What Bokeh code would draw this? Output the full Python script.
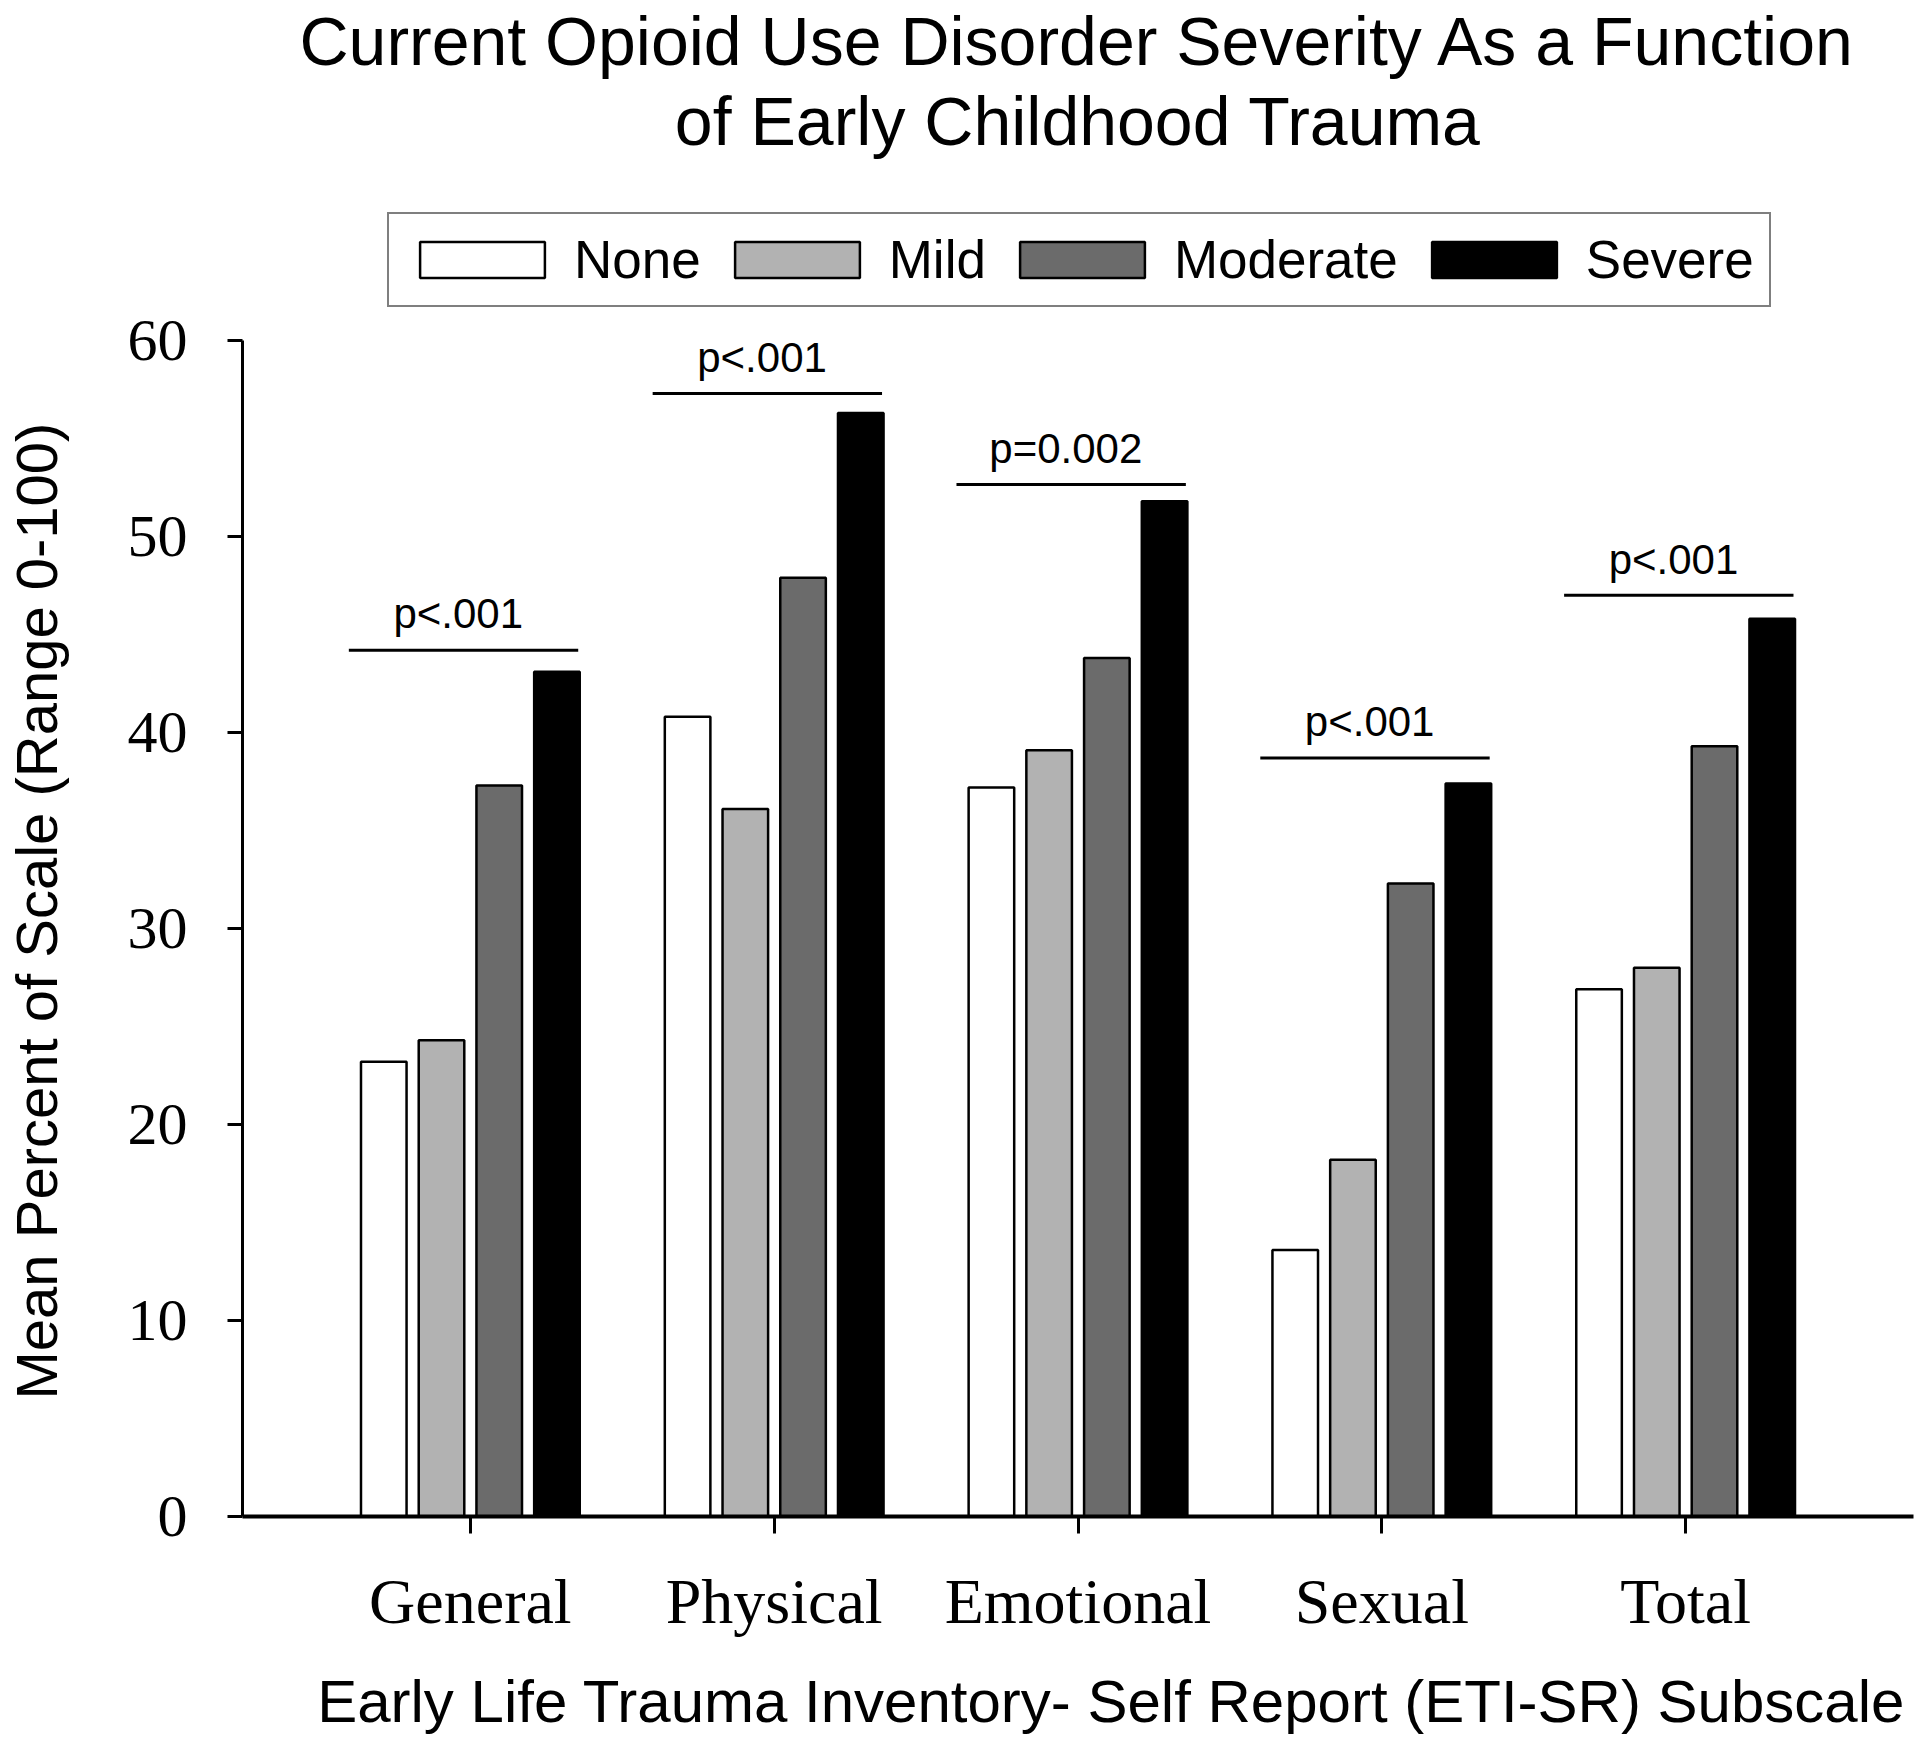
from bokeh.plotting import figure
from bokeh.models import ColumnDataSource, FixedTicker, Legend, LegendItem, Title, Range1d
from bokeh.transform import dodge
from bokeh.core.properties import value
from bokeh.embed import file_html
from bokeh.resources import INLINE

# ---------------- data ----------------
subscales = ["General", "Physical", "Emotional", "Sexual", "Total"]
severity_levels = ["None", "Mild", "Moderate", "Severe"]
none_vals = [23.2, 40.8, 37.2, 13.6, 26.9]
mild_vals = [24.3, 36.1, 39.1, 18.2, 28.0]
moderate_vals = [37.3, 47.9, 43.8, 32.3, 39.3]
severe_vals = [43.1, 56.3, 51.8, 37.4, 45.8]
p_labels = ["p<.001", "p<.001", "p=0.002", "p<.001", "p<.001"]
p_levels = [44.2, 57.3, 52.65, 38.7, 47.0]
y_ticks = [0, 10, 20, 30, 40, 50, 60]

title_line1 = "Current Opioid Use Disorder Severity As a Function"
title_line2 = "of Early Childhood Trauma"
x_title = "Early Life Trauma Inventory- Self Report (ETI-SR) Subscale"
y_title = "Mean Percent of Scale (Range 0-100)"

# ---------------- styles / layout ----------------
fills = ["#ffffff", "#b2b2b2", "#6b6b6b", "#000000"]
offsets = [-0.285, -0.095, 0.095, 0.285]
bar_width = 0.15
SANS = "Liberation Sans"
SERIF = "Liberation Serif"
NBSP = "\u00a0"

FRAME_TOP, AXIS_TOP, FRAME_BOTTOM = 160, 340, 1516   # screen px
y_max = 60 * (FRAME_BOTTOM - FRAME_TOP) / (FRAME_BOTTOM - AXIS_TOP)

idx = list(range(len(subscales)))
src = ColumnDataSource(dict(
    x=idx, none=none_vals, mild=mild_vals, moderate=moderate_vals, severe=severe_vals,
))
cols = ["none", "mild", "moderate", "severe"]

p = figure(
    width=1920, height=1743,
    x_range=Range1d(-0.75, 4.75), y_range=Range1d(0, y_max),
    output_backend="svg", toolbar_location=None, title=None,
    min_border_left=237, min_border_right=7, min_border_top=FRAME_TOP,
    min_border_bottom=1743 - FRAME_BOTTOM,
)
p.outline_line_color = None
p.xgrid.visible = False
p.ygrid.visible = False
p.background_fill_color = "white"
p.border_fill_color = "white"

renderers = []
for col, off, fc in zip(cols, offsets, fills):
    r = p.vbar(x=dodge("x", off), top=col, width=bar_width, bottom=0, source=src,
               fill_color=fc, line_color="black", line_width=2.5)
    renderers.append(r)

# significance bars and labels
p.segment(x0=[i - 0.40 for i in idx], x1=[i + 0.355 for i in idx],
          y0=p_levels, y1=p_levels, line_color="black", line_width=3)
p.text(x=[i - 0.04 for i in idx], y=[lv + 1.85 for lv in p_levels], text=p_labels,
       text_align="center", text_baseline="middle",
       text_font=value(SANS), text_font_size="42px", text_color="black")

# axes
xa = p.xaxis[0]
xa.ticker = FixedTicker(ticks=idx)
xa.major_label_overrides = {i: s for i, s in zip(idx, subscales)}
xa.major_label_text_font = SERIF
xa.major_label_text_font_size = "64px"
xa.major_label_text_color = "black"
xa.major_label_standoff = 32
xa.major_tick_out = 17
xa.major_tick_in = 0
xa.minor_tick_out = 0
xa.minor_tick_in = 0
xa.major_tick_line_width = 3
xa.major_tick_line_color = "black"
xa.axis_line_width = 4
xa.axis_line_color = "black"
# leading no-break spaces nudge the centred label to the right, as in the reference
xa.axis_label = NBSP * 4 + x_title
xa.axis_label_text_font = SANS
xa.axis_label_text_font_size = "60px"
xa.axis_label_text_font_style = "normal"
xa.axis_label_text_color = "black"
xa.axis_label_standoff = 28

ya = p.yaxis[0]
ya.ticker = FixedTicker(ticks=y_ticks)
ya.bounds = (0, 60)
ya.major_label_text_font = SERIF
ya.major_label_text_font_size = "60px"
ya.major_label_text_color = "black"
ya.major_label_standoff = 40
ya.major_tick_out = 15
ya.major_tick_in = 0
ya.minor_tick_out = 0
ya.minor_tick_in = 0
ya.major_tick_line_width = 3
ya.major_tick_line_color = "black"
ya.axis_line_width = 3
ya.axis_line_color = "black"
# trailing no-break spaces move the centred label down to the 0-60 axis span
ya.axis_label = y_title + NBSP * 9
ya.axis_label_text_font = SANS
ya.axis_label_text_font_size = "58px"
ya.axis_label_text_font_style = "normal"
ya.axis_label_text_color = "black"
ya.axis_label_standoff = 56

# legend (horizontal box at the top of the plotting area)
items = [LegendItem(label=lab, renderers=[r]) for lab, r in zip(severity_levels, renderers)]
legend = Legend(
    items=items, orientation="horizontal", location=(145, FRAME_BOTTOM - 307),
    glyph_width=156, glyph_height=45, label_standoff=14, spacing=18,
    padding=15, margin=0,
    label_text_font=SANS, label_text_font_size="53px", label_text_color="black",
    border_line_color="black", border_line_width=2.5,
    background_fill_color="white", background_fill_alpha=1.0,
)
p.add_layout(legend, "center")

# two-line title (first added sits nearest the plot)
p.add_layout(Title(text=title_line2, align="center", text_font=SANS, text_font_size="68px",
                   text_font_style="normal", text_color="black", standoff=4), "above")
p.add_layout(Title(text=title_line1, align="center", text_font=SANS, text_font_size="68px",
                   text_font_style="normal", text_color="black", standoff=0), "above")

open("out.html", "w").write(file_html(p, INLINE))
